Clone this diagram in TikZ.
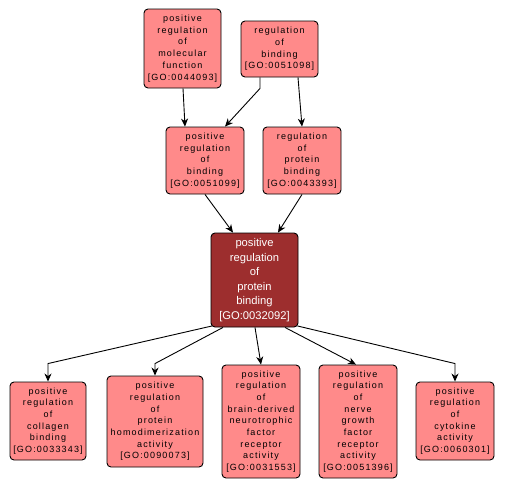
\documentclass[tikz,border=0pt]{standalone}
\usepackage{fontspec}
\setmainfont{Liberation Sans}
\usetikzlibrary{arrows.meta,calc}
\definecolor{boxfill}{RGB}{255,138,138}
\definecolor{centerfill}{RGB}{157,46,46}
\tikzset{
  goterm/.style={draw=black, line width=0.9pt, fill=boxfill, rounded corners=4pt, align=center,
    inner sep=0pt, font=\fontsize{9}{11.7}\selectfont\addfontfeatures{LetterSpace=13}},
  gocenter/.style={draw=black, line width=0.9pt, fill=centerfill, rounded corners=4pt, align=center,
    inner sep=0pt, text=white, font=\fontsize{11.2}{14.6}\selectfont},
  link/.style={line width=0.9pt, -{Stealth[length=8pt,width=7pt,inset=2.5pt]}}
}
\begin{document}
\begin{tikzpicture}[x=1pt,y=-1pt]
\useasboundingbox (0,0) rectangle (505,490);
\node[goterm, minimum width=77pt, minimum height=79pt] (n1) at (182.5,48.5) {positive\\regulation\\of\\molecular\\function\\{[GO:0044093]}};
\node[goterm, minimum width=77pt, minimum height=56pt] (n2) at (279.5,49) {regulation\\of\\binding\\{[GO:0051098]}};
\node[goterm, minimum width=78pt, minimum height=67pt] (n3) at (205,160.5) {positive\\regulation\\of\\binding\\{[GO:0051099]}};
\node[goterm, minimum width=78pt, minimum height=67pt] (n4) at (302,160.5) {regulation\\of\\protein\\binding\\{[GO:0043393]}};
\node[gocenter, minimum width=87pt, minimum height=94pt] (c) at (254.5,280) {positive\\regulation\\of\\protein\\binding\\{[GO:0032092]}};
\node[goterm, minimum width=76pt, minimum height=78pt] (b1) at (48,421) {positive\\regulation\\of\\collagen\\binding\\{[GO:0033343]}};
\node[goterm, minimum width=96pt, minimum height=91pt] (b2) at (155,421.5) {positive\\regulation\\of\\protein\\homodimerization\\activity\\{[GO:0090073]}};
\node[goterm, minimum width=78pt, minimum height=113pt] (b3) at (261,421.5) {positive\\regulation\\of\\brain-derived\\neurotrophic\\factor\\receptor\\activity\\{[GO:0031553]}};
\node[goterm, minimum width=78pt, minimum height=113pt] (b4) at (358,421.5) {positive\\regulation\\of\\nerve\\growth\\factor\\receptor\\activity\\{[GO:0051396]}};
\node[goterm, minimum width=78pt, minimum height=78pt] (b5) at (455,421) {positive\\regulation\\of\\cytokine\\activity\\{[GO:0060301]}};

\draw[link] ($(n1.south)+(0.5,0)$) -- ($(n3.north)+(-20,0)$);
\draw[link] ($(n2.south)+(-19.5,0)$) -- ++(0,11) -- ($(n3.north)+(20,0)$);
\draw[link] ($(n2.south)+(18.5,0)$) -- (n4.north);
\draw[link] (n3.south) -- ($(c.north)+(-21.5,0)$);
\draw[link] (n4.south) -- ($(c.north)+(23.5,0)$);
\draw[link] ($(c.south west)+(1.5,-1.5)$) -- ($(b1.north)+(0,-18)$) -- (b1.north);
\draw[link] ($(c.south)+(-31.5,0)$) -- ($(b2.north)+(0,-12)$) -- (b2.north);
\draw[link] ($(c.south)+(0.5,0)$) -- (b3.north);
\draw[link] ($(c.south)+(30.5,0)$) -- ($(b4.north)+(-2,0)$);
\draw[link] ($(c.south east)+(-1,-1.5)$) -- ($(b5.north)+(0,-18)$) -- (b5.north);
\end{tikzpicture}
\end{document}
